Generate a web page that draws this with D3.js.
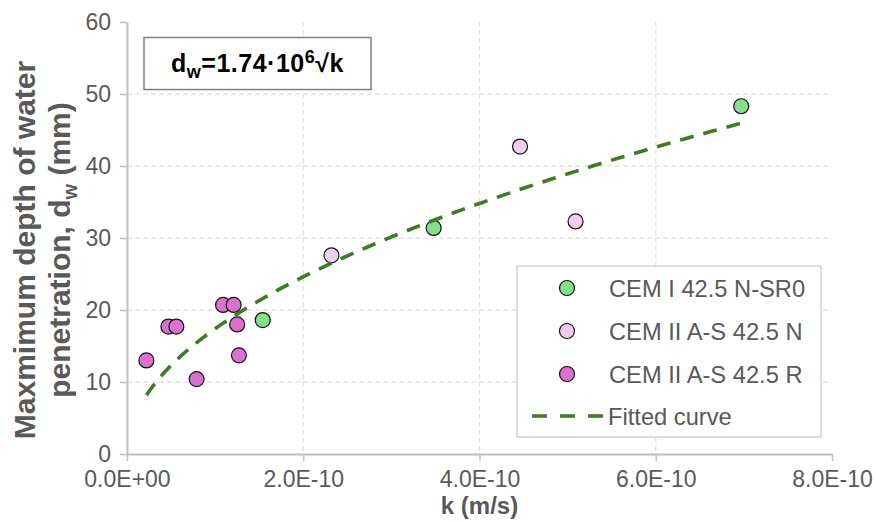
<!DOCTYPE html>
<html>
<head>
<meta charset="utf-8">
<script src="https://cdn.jsdelivr.net/npm/d3@7"></script>
<style>
  body { margin: 0; background: #fff; }
  svg { display: block; }
  text { font-family: "Liberation Sans", Arial, sans-serif; }
</style>
</head>
<body>
<svg id="chart" width="876" height="522"></svg>
<script>
// ---- data ----
const seriesNames = ["CEM I 42.5 N-SR0", "CEM II A-S 42.5 N", "CEM II A-S 42.5 R"];
const seriesColors = ["#83e08c", "#f2cdee", "#da70d0"];
// permeability k (m/s) and max depth of water penetration d_w (mm)
const kSR0 = [1.54e-10, 3.48e-10, 6.97e-10];
const dSR0 = [18.6, 31.4, 48.3];
const kIIN = [2.32e-10, 4.46e-10, 5.09e-10];
const dIIN = [27.6, 42.7, 32.3];
const kIIR = [0.22e-10, 0.47e-10, 0.56e-10, 0.79e-10, 1.09e-10, 1.21e-10, 1.25e-10, 1.27e-10];
const dIIR = [13.0, 17.7, 17.7, 10.4, 20.7, 20.7, 18.0, 13.7];
// fitted curve d_w = 1.74e6 * sqrt(k)
const fitCoef = 1.74e6;
const fitRange = [2.2e-11, 6.97e-10];
const xTicks = [0, 2e-10, 4e-10, 6e-10, 8e-10];
const xTickLabels = ["0.0E+00", "2.0E-10", "4.0E-10", "6.0E-10", "8.0E-10"];
const yTicks = [0, 10, 20, 30, 40, 50, 60];

// ---- layout ----
const svg = d3.select("#chart");
const plot = { left: 127, right: 832, top: 22, bottom: 454 };
const x = d3.scaleLinear().domain([0, 8e-10]).range([plot.left, plot.right]);
const y = d3.scaleLinear().domain([0, 60]).range([plot.bottom, plot.top]);
const axisGrey = "#bfbfbf";
const labelGrey = "#595959";

// gridlines (inner ticks only)
const grid = svg.append("g").attr("stroke", "#e3e3e3").attr("stroke-width", 1.4).attr("stroke-dasharray", "5,3");
grid.selectAll("line.h").data(yTicks.slice(1, -1)).join("line")
  .attr("x1", plot.left).attr("x2", plot.right)
  .attr("y1", d => y(d)).attr("y2", d => y(d));
grid.selectAll("line.v").data(xTicks.slice(1, -1)).join("line")
  .attr("x1", d => x(d)).attr("x2", d => x(d))
  .attr("y1", plot.top).attr("y2", plot.bottom);

// axes
const xAxis = d3.axisBottom(x).tickValues(xTicks).tickSize(7).tickSizeOuter(0)
  .tickFormat((d, i) => xTickLabels[i]);
const yAxis = d3.axisLeft(y).tickValues(yTicks).tickSize(7).tickSizeOuter(0);

const gx = svg.append("g").attr("transform", `translate(0,${plot.bottom})`).call(xAxis);
const gy = svg.append("g").attr("transform", `translate(${plot.left},0)`).call(yAxis);
[gx, gy].forEach(g => {
  g.select(".domain").attr("stroke", axisGrey).attr("stroke-width", 2);
  g.selectAll(".tick line").attr("stroke", axisGrey).attr("stroke-width", 1.5);
  g.selectAll(".tick text").attr("fill", labelGrey).attr("font-size", 23)
    .attr("font-family", "'Liberation Sans', Arial, sans-serif");
});
gx.selectAll(".tick text").attr("dy", null).attr("y", 32.5);
gy.selectAll(".tick text").attr("x", -16).attr("dy", "0.34em");

// axis titles
svg.append("text").attr("x", (plot.left + plot.right) / 2).attr("y", 514)
  .attr("text-anchor", "middle").attr("font-size", 24).attr("font-weight", "bold")
  .attr("fill", labelGrey).text("k (m/s)");

const yt = svg.append("text").attr("transform", "rotate(-90)")
  .attr("text-anchor", "middle").attr("font-size", 30).attr("font-weight", "bold")
  .attr("fill", labelGrey);
yt.append("tspan").attr("x", -250).attr("y", 35).text("Maxmimum depth of water");
const l2 = yt.append("tspan").attr("x", -250).attr("y", 70);
l2.append("tspan").text("penetration, d");
l2.append("tspan").attr("font-size", 20).attr("dy", 7).text("w");
l2.append("tspan").attr("dy", -7).text(" (mm)");

// scatter series
const series = [
  { k: kSR0, d: dSR0 },
  { k: kIIN, d: dIIN },
  { k: kIIR, d: dIIR }
];
series.forEach((s, si) => {
  svg.append("g").selectAll("circle").data(s.k.map((k, i) => [k, s.d[i]])).join("circle")
    .attr("cx", d => x(d[0])).attr("cy", d => y(d[1])).attr("r", 7.5)
    .attr("fill", seriesColors[si]).attr("stroke", "#111").attr("stroke-width", 1.2);
});

// fitted curve
const fitColor = "#3a7d22";
const fitPts = d3.range(0, 101).map(i => {
  const k = fitRange[0] + (fitRange[1] - fitRange[0]) * i / 100;
  return [k, fitCoef * Math.sqrt(k)];
});
svg.append("path").datum(fitPts)
  .attr("d", d3.line().x(d => x(d[0])).y(d => y(d[1])))
  .attr("fill", "none").attr("stroke", fitColor).attr("stroke-width", 3.6)
  .attr("stroke-dasharray", "14,10");

// equation box
svg.append("rect").attr("x", 144).attr("y", 37.5).attr("width", 227).attr("height", 52)
  .attr("fill", "#fff").attr("stroke", "#808080").attr("stroke-width", 1.5);
const eq = svg.append("text").attr("x", 171).attr("y", 72)
  .attr("font-size", 25).attr("font-weight", "bold").attr("fill", "#000")
  .attr("letter-spacing", 0.5);
eq.append("tspan").text("d");
eq.append("tspan").attr("font-size", 18).attr("dy", 6).text("w");
eq.append("tspan").attr("dy", -6).text("=1.74·10");
eq.append("tspan").attr("font-size", 18).attr("dy", -9).text("6");
eq.append("tspan").attr("dy", 9).text("√k");

// legend
const lg = svg.append("g");
lg.append("rect").attr("x", 517).attr("y", 266).attr("width", 304).attr("height", 171)
  .attr("fill", "#fff").attr("stroke", "#c8c8c8").attr("stroke-width", 1.2);
const rowsY = [288, 331, 374];
seriesNames.forEach((name, i) => {
  lg.append("circle").attr("cx", 567).attr("cy", rowsY[i]).attr("r", 7.5)
    .attr("fill", seriesColors[i]).attr("stroke", "#111").attr("stroke-width", 1.2);
  lg.append("text").attr("x", 609).attr("y", rowsY[i] + 8.5)
    .attr("font-size", 23.7).attr("fill", labelGrey).text(name);
});
lg.append("line").attr("x1", 532).attr("x2", 603).attr("y1", 416).attr("y2", 416)
  .attr("stroke", fitColor).attr("stroke-width", 3.6).attr("stroke-dasharray", "15,13");
lg.append("text").attr("x", 608).attr("y", 424.5)
  .attr("font-size", 23.7).attr("fill", labelGrey).text("Fitted curve");
</script>
</body>
</html>
